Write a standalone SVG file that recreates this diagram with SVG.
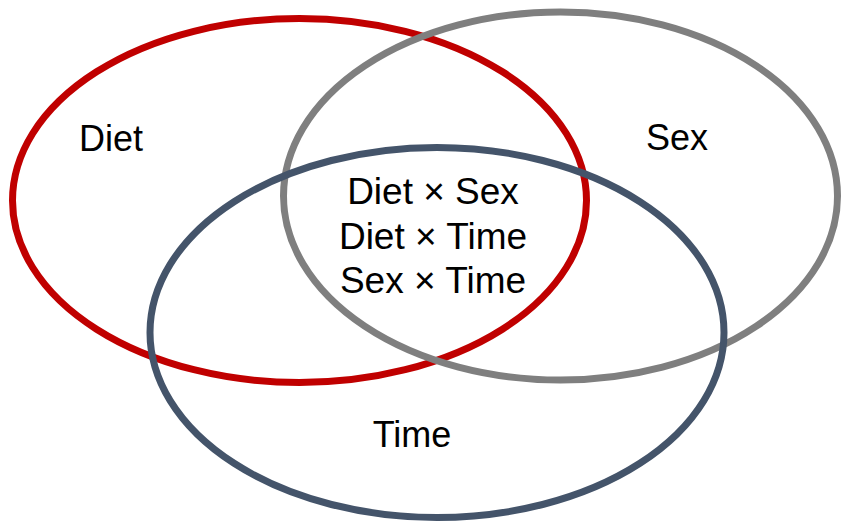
<svg xmlns="http://www.w3.org/2000/svg" width="841" height="524" viewBox="0 0 841 524">
<style>
.set{fill:none;stroke-width:7}
.lbl{font-family:"Liberation Sans",Arial,sans-serif;font-size:36px;fill:#000;text-anchor:middle}
.mid{font-size:37px}
</style>
<rect width="841" height="524" fill="#fff"/>
<g id="diet"><ellipse class="set" cx="299.5" cy="200.5" rx="287" ry="182" stroke="#C00000"/></g>
<g id="sex"><ellipse class="set" cx="560.5" cy="196" rx="277" ry="184" stroke="#7F7F7F"/></g>
<g id="time"><ellipse class="set" cx="437" cy="332.5" rx="287" ry="185" stroke="#44546A"/></g>
<g id="connectors"></g>
<g id="labels">
<text class="lbl" x="111" y="150.5">Diet</text>
<text class="lbl" x="677" y="150">Sex</text>
<text class="lbl mid" x="433" y="204">Diet × Sex</text>
<text class="lbl mid" x="433" y="248.5">Diet × Time</text>
<text class="lbl mid" x="433" y="293">Sex × Time</text>
<text class="lbl" x="412" y="447">Time</text>
</g>
</svg>
